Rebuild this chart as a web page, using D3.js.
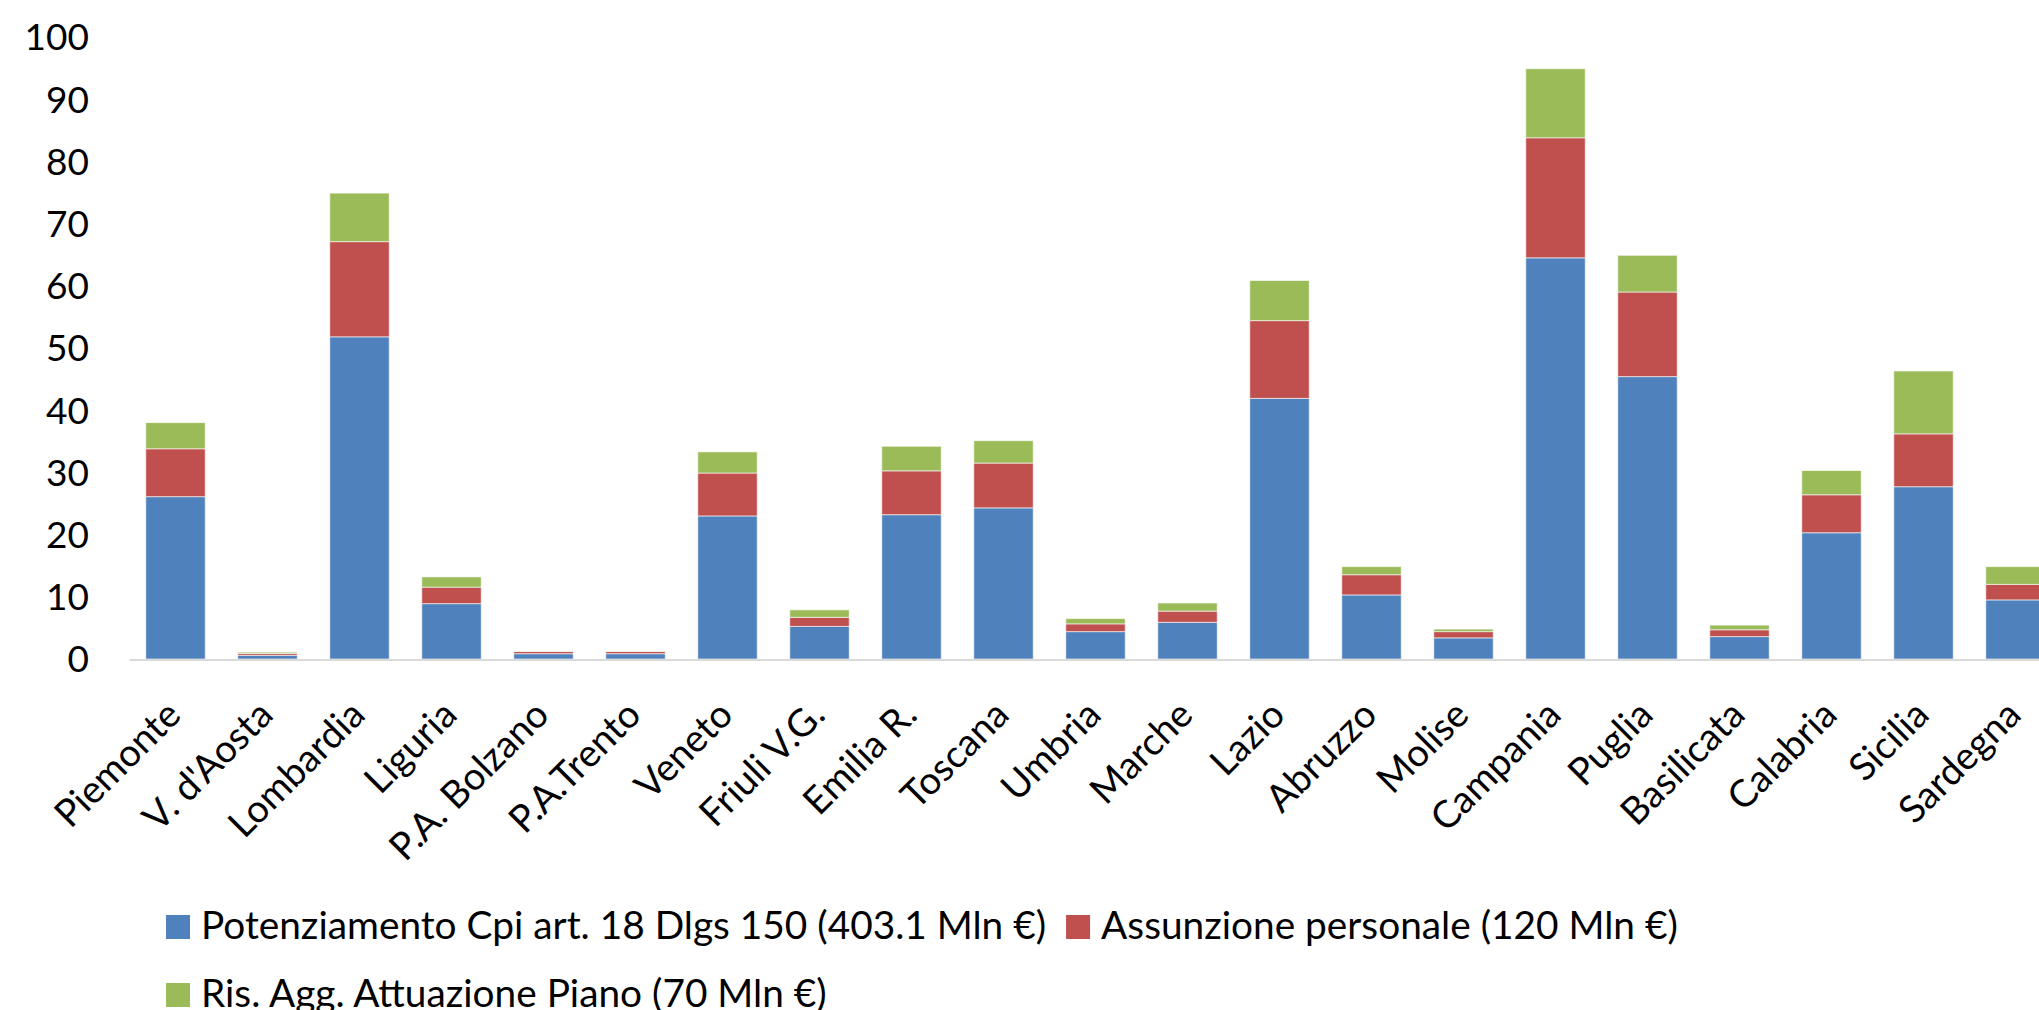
<!DOCTYPE html>
<html>
<head>
<meta charset="utf-8">
<script src="https://cdn.jsdelivr.net/npm/d3@7"></script>
<style>
  html, body { margin: 0; padding: 0; background: #fff; overflow: hidden; }
  svg { display: block; font-family: Lato, "Open Sans", sans-serif; }
</style>
</head>
<body>
<div id="chart"></div>
<script>
// Regioni (asse x)
const regions = [
  "Piemonte", "V. d'Aosta", "Lombardia", "Liguria", "P.A. Bolzano", "P.A.Trento",
  "Veneto", "Friuli V.G.", "Emilia R.", "Toscana", "Umbria", "Marche", "Lazio",
  "Abruzzo", "Molise", "Campania", "Puglia", "Basilicata", "Calabria", "Sicilia", "Sardegna"
];

// Mln € per regione
const potenziamento = [26.1, 0.6, 51.8, 8.9, 0.85, 0.85, 23.0, 5.25, 23.2, 24.3, 4.4, 5.9, 41.9, 10.3, 3.4, 64.5, 45.4, 3.6, 20.3, 27.7, 9.5];
const assunzione    = [7.7, 0.3, 15.3, 2.65, 0.35, 0.35, 6.9, 1.45, 7.05, 7.2, 1.25, 1.8, 12.5, 3.25, 1.0, 19.3, 13.6, 1.1, 6.1, 8.5, 2.5];
const risorse       = [4.2, 0.2, 7.8, 1.65, 0.05, 0.05, 3.4, 1.2, 3.95, 3.6, 0.85, 1.3, 6.45, 1.3, 0.4, 11.1, 5.9, 0.75, 3.9, 10.1, 2.85];

const seriesNames = [
  "Potenziamento Cpi art. 18 Dlgs 150 (403.1 Mln €)",
  "Assunzione personale (120 Mln €)",
  "Ris. Agg. Attuazione Piano (70 Mln €)"
];
const seriesKeys = ["pot", "ass", "ris"];
const colors = ["#4F81BD", "#C0504D", "#9BBB59"];
const yTicks = [0, 10, 20, 30, 40, 50, 60, 70, 80, 90, 100];

const width = 2039, height = 1010;

const rows = regions.map((r, i) => ({
  region: r, pot: potenziamento[i], ass: assunzione[i], ris: risorse[i]
}));

const svg = d3.select("#chart").append("svg")
  .attr("width", width)
  .attr("height", height);

svg.append("rect").attr("width", width).attr("height", height).attr("fill", "#fff");

// ── Scales (plot area runs past the right edge, as in the original) ──
const plotLeft = 129.5, step = 92;
const x = d3.scaleBand()
  .domain(regions)
  .range([plotLeft, plotLeft + step * regions.length])
  .paddingInner(0.354)
  .paddingOuter(0.177);

const y = d3.scaleLinear().domain([0, 100]).range([659, 37]);

// ── Stacked bars ──
const stacked = d3.stack().keys(seriesKeys)(rows);

svg.append("g")
  .selectAll("g")
  .data(stacked)
  .join("g")
  .attr("fill", (d, i) => colors[i])
  .selectAll("rect")
  .data(d => d)
  .join("rect")
  .attr("x", d => x(d.data.region))
  .attr("width", x.bandwidth())
  .attr("y", d => y(d[1]))
  .attr("height", d => y(d[0]) - y(d[1]))
  .attr("stroke", "#fff")
  .attr("stroke-opacity", 0.6)
  .attr("stroke-width", 1);

// ── X axis line ──
svg.append("line")
  .attr("x1", plotLeft)
  .attr("x2", width + 40)
  .attr("y1", 660)
  .attr("y2", 660)
  .attr("stroke", "#d9d9d9")
  .attr("stroke-width", 2);

// ── Y tick labels ──
svg.append("g")
  .selectAll("text")
  .data(yTicks)
  .join("text")
  .attr("x", 89)
  .attr("y", d => y(d))
  .attr("dy", "0.36em")
  .attr("text-anchor", "end")
  .attr("font-size", 37)
  .attr("fill", "#000")
  .text(d => d);

// ── Category labels, rotated 45° ──
svg.append("g")
  .selectAll("text")
  .data(regions)
  .join("text")
  .attr("transform", d => `translate(${x(d) + x.bandwidth() / 2 + 7.5},717) rotate(-45)`)
  .attr("text-anchor", "end")
  .attr("font-size", 38)
  .attr("fill", "#000")
  .text(d => d);

// ── Legend ──
const legend = svg.append("g").attr("font-size", 38.8).attr("fill", "#000");

function legendItem(i, sx, baseline) {
  legend.append("rect")
    .attr("x", sx).attr("y", baseline - 24)
    .attr("width", 24).attr("height", 24)
    .attr("fill", colors[i]);
  return legend.append("text")
    .attr("x", sx + 35)
    .attr("y", baseline)
    .attr("fill", "#000")
    .text(seriesNames[i]);
}

const first = legendItem(0, 166, 939);
const firstEnd = 166 + 35 + first.node().getComputedTextLength();
legendItem(1, firstEnd + 20, 939);
legendItem(2, 166, 1007);
</script>
</body>
</html>
